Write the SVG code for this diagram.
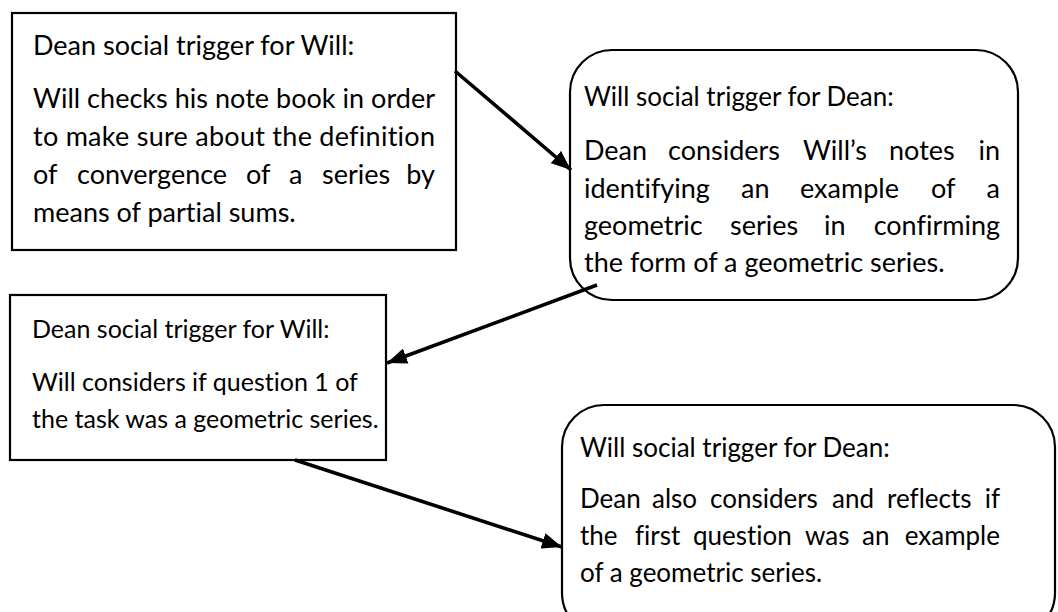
<svg xmlns="http://www.w3.org/2000/svg" width="1058" height="612" viewBox="0 0 1058 612">
  <style>
    .box { fill: #ffffff; stroke: #000000; stroke-width: 2.2; }
    .txt { font-family: Lato, "Open Sans", "Liberation Sans", sans-serif; fill: #000000; font-variant-ligatures: none; font-feature-settings: "liga" 0, "clig" 0; }
    .s27 { font-size: 27px; }
    .s26 { font-size: 26px; }
    .s25 { font-size: 25px; }
    .conn { stroke: #000000; stroke-width: 3.6; fill: none; marker-end: url(#head); }
  </style>
  <defs>
    <marker id="head" viewBox="0 0 20 16" refX="20" refY="8" markerWidth="20" markerHeight="16" markerUnits="userSpaceOnUse" orient="auto">
      <path d="M0,0 L20,8 L0,16 Z" fill="#000000"/>
    </marker>
  </defs>

  <!-- Dean trigger (top left) -->
  <g id="node-dean-1">
    <rect class="box" x="12" y="13" width="444" height="237"/>
    <text class="txt s27" x="33" y="55">Dean social trigger for Will:</text>
    <text class="txt s27" x="33" y="108" textLength="402" lengthAdjust="spacing">Will checks his note book in order</text>
    <text class="txt s27" x="33" y="146" textLength="402" lengthAdjust="spacing">to make sure about the definition</text>
    <text class="txt s27" y="184"><tspan x="33">of</tspan><tspan x="77">convergence</tspan><tspan x="246">of</tspan><tspan x="289">a</tspan><tspan x="322">series</tspan><tspan x="435" text-anchor="end">by</tspan></text>
    <text class="txt s27" x="33" y="222">means of partial sums.</text>
  </g>

  <!-- Will trigger (top right) -->
  <g id="node-will-1">
    <rect class="box" x="570" y="50" width="448" height="250" rx="42" ry="42"/>
    <text class="txt s26" x="584" y="106">Will social trigger for Dean:</text>
    <text class="txt s27" y="160"><tspan x="584">Dean</tspan><tspan x="668">considers</tspan><tspan x="803">Will’s</tspan><tspan x="889">notes</tspan><tspan x="1000" text-anchor="end">in</tspan></text>
    <text class="txt s27" y="198"><tspan x="584">identifying</tspan><tspan x="741">an</tspan><tspan x="800">example</tspan><tspan x="931">of</tspan><tspan x="1000" text-anchor="end">a</tspan></text>
    <text class="txt s27" y="235"><tspan x="584">geometric</tspan><tspan x="730">series</tspan><tspan x="824">in</tspan><tspan x="1000" text-anchor="end">confirming</tspan></text>
    <text class="txt s27" x="584" y="272">the form of a geometric series.</text>
  </g>

  <!-- Dean trigger (middle left) -->
  <g id="node-dean-2">
    <rect class="box" x="10" y="295" width="376" height="165"/>
    <text class="txt s25" x="32" y="338">Dean social trigger for Will:</text>
    <text class="txt s25" x="32" y="391">Will considers if question 1 of</text>
    <text class="txt s25" x="32" y="428">the task was a geometric series.</text>
  </g>

  <!-- Will trigger (bottom right) -->
  <g id="node-will-2">
    <rect class="box" x="562" y="405" width="493" height="230" rx="42" ry="42"/>
    <text class="txt s26" x="580" y="457">Will social trigger for Dean:</text>
    <text class="txt s26" y="508"><tspan x="580">Dean</tspan><tspan x="652">also</tspan><tspan x="710">considers</tspan><tspan x="832">and</tspan><tspan x="887">reflects</tspan><tspan x="1000" text-anchor="end">if</tspan></text>
    <text class="txt s26" y="545"><tspan x="580">the</tspan><tspan x="635">first</tspan><tspan x="693">question</tspan><tspan x="805">was</tspan><tspan x="862">an</tspan><tspan x="1000" text-anchor="end">example</tspan></text>
    <text class="txt s26" x="580" y="582">of a geometric series.</text>
  </g>

  <!-- connectors, drawn last so the arrowheads sit on the box outlines -->
  <g id="connectors">
    <line class="conn" x1="455" y1="71" x2="571" y2="170"/>
    <line class="conn" x1="597" y1="285" x2="387" y2="363"/>
    <line class="conn" x1="295" y1="460" x2="562" y2="547"/>
  </g>
</svg>
